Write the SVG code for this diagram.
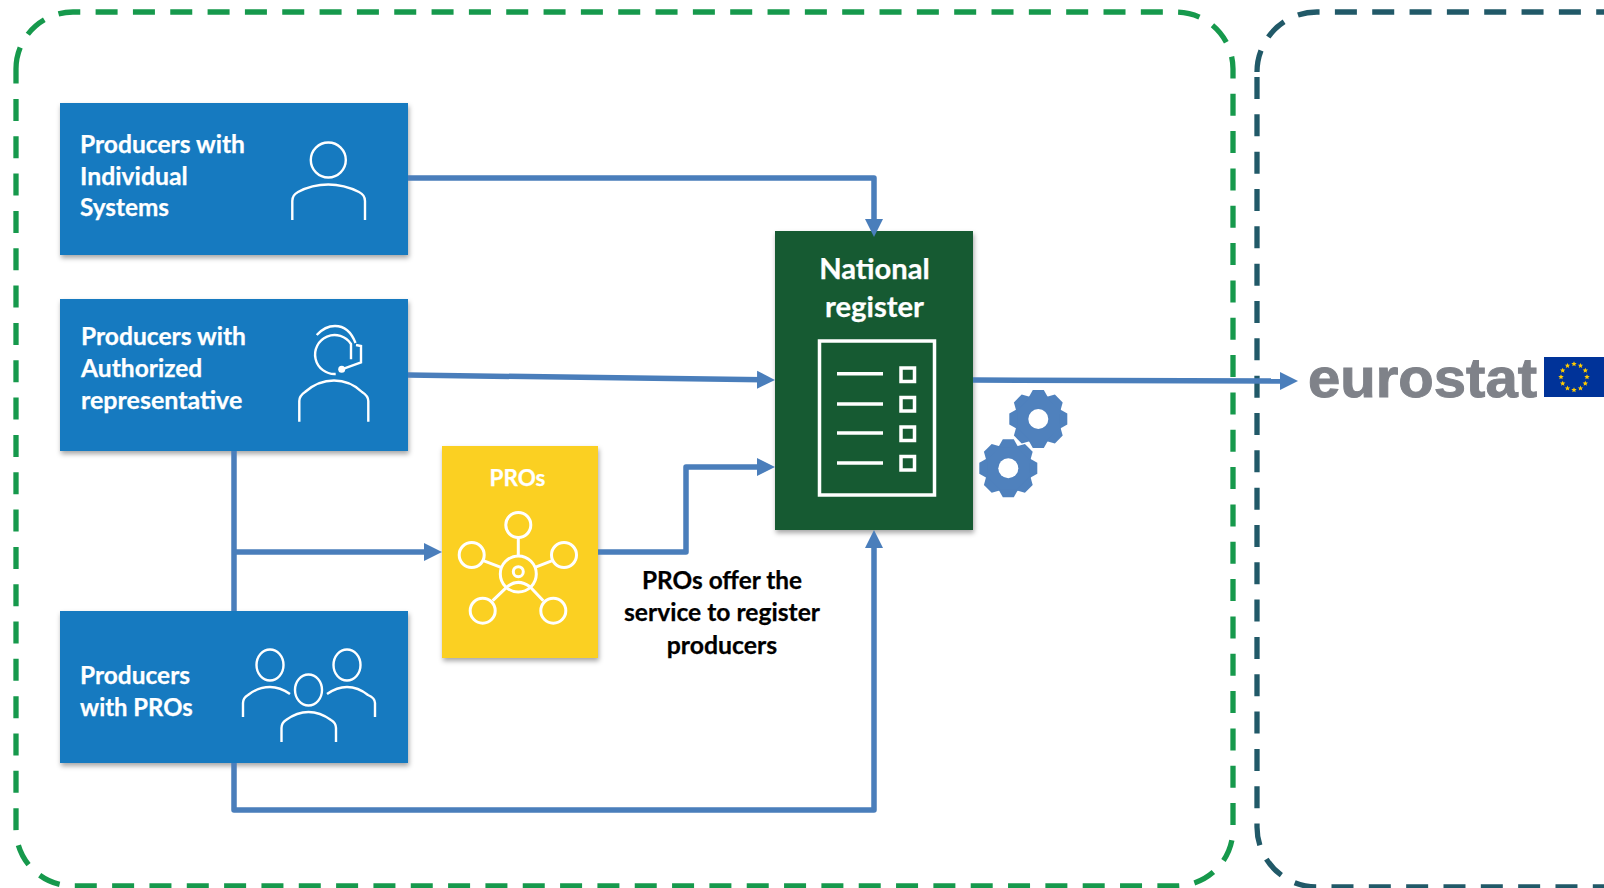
<svg xmlns="http://www.w3.org/2000/svg" width="1604" height="888" viewBox="0 0 1604 888">
<style>
.box{fill:#157ac0;filter:url(#sh)}
.t{font-family:Lato,Carlito,"Open Sans",sans-serif;font-weight:700;fill:#fff;font-size:24.600px;stroke:currentColor;stroke-width:.25;color:#fff}
.k{fill:#000;color:#000}
.ic{fill:none;stroke:#fff;stroke-width:2.400}
.c{fill:none;stroke:#4a7ebb;stroke-width:5.500;stroke-linejoin:round}
.d{fill:none;stroke-width:5.300;stroke-dasharray:22 15.330}
</style>
<defs>
<filter id="sh" x="-10%" y="-10%" width="120%" height="120%"><feDropShadow dx="1" dy="3" stdDeviation="2.500" flood-color="#000" flood-opacity="0.35"/></filter>
<marker id="a" markerUnits="userSpaceOnUse" markerWidth="20" markerHeight="20" refX="6" refY="10" orient="auto"><path d="M0 1L18 10L0 19z" fill="#4a7ebb"/></marker>
<g id="gear"><circle r="24" fill="#4f81bd"/><g fill="#4f81bd"><path id="tt" d="M-10-21L-5.500-29H5.500L10-21z"/><use href="#tt" transform="rotate(45)"/><use href="#tt" transform="rotate(90)"/><use href="#tt" transform="rotate(135)"/><use href="#tt" transform="rotate(180)"/><use href="#tt" transform="rotate(225)"/><use href="#tt" transform="rotate(270)"/><use href="#tt" transform="rotate(315)"/></g><circle r="10" fill="#fff"/></g>
<path id="star" d="M0-2.800L.8-.9L2.700-.9L1.200.4L1.700 2.300L0 1.200L-1.700 2.300L-1.200.4L-2.700-.9L-.8-.9z" fill="#ffcc00"/>
</defs>
<rect width="1604" height="888" fill="#fff"/>
<path id="green-frame" class="d" stroke="#16994c" d="M16 69A57 57 0 0 1 73 12H1176A57 57 0 0 1 1233 69V829A57 57 0 0 1 1176 886H73A57 57 0 0 1 16 829Z"/>
<g id="teal-frame"><path class="d" stroke="#215968" d="M1257 72A60 60 0 0 1 1317 12H1620"/><path class="d" stroke="#215968" d="M1257 77V827A60 60 0 0 0 1317 887H1620"/></g>
<g id="node-individual"><rect class="box" x="60" y="103" width="348" height="152"/>
<text class="t" x="80" y="152.500" textLength="165" lengthAdjust="spacingAndGlyphs">Producers with</text><text class="t" x="80" y="184.500" textLength="107.700" lengthAdjust="spacingAndGlyphs">Individual</text><text class="t" x="80" y="216" textLength="89" lengthAdjust="spacingAndGlyphs">Systems</text>
<circle class="ic" cx="328.300" cy="160" r="17.500"/><path class="ic" d="M292.300 220V201Q292.300 195 298 192Q312 184.500 328.300 184.500Q344 184.500 359 192Q365 195 365 201V220"/></g>
<g id="node-authorized"><rect class="box" x="60" y="299" width="348" height="152"/>
<text class="t" x="81" y="344.500" textLength="165" lengthAdjust="spacingAndGlyphs">Producers with</text><text class="t" x="81" y="377" textLength="121.300" lengthAdjust="spacingAndGlyphs">Authorized</text><text class="t" x="81" y="409" textLength="161.300" lengthAdjust="spacingAndGlyphs">representative</text>
<path class="ic" d="M299.300 421.700V401Q299.300 396 305 392Q318 380.500 334 380.500Q350 380.500 362 392Q368.300 396 368.300 401V421.700"/>
<path class="ic" d="M335.700 374A19.500 19.500 0 1 1 351 344V359.300"/>
<path class="ic" d="M316.700 335Q325 326 335 326Q349 326 355.500 343"/>
<path class="ic" d="M356 345L361 346V362.500L341.700 369.300"/>
<circle cx="341.700" cy="369.300" r="3.500" fill="#fff"/></g>
<g id="node-pros-producers"><rect class="box" x="60" y="611" width="348" height="152"/>
<text class="t" x="80" y="684" textLength="110" lengthAdjust="spacingAndGlyphs">Producers</text><text class="t" x="80" y="715.500" textLength="112.700" lengthAdjust="spacingAndGlyphs">with PROs</text>
<g class="ic"><ellipse cx="270" cy="665" rx="13.500" ry="15.500"/><ellipse cx="347" cy="665" rx="13.500" ry="15.500"/><ellipse cx="308.500" cy="690" rx="13.500" ry="15.500"/>
<path d="M243 717V703Q243 698 248 695Q258 687 270 687Q280 687 290 694"/><path d="M327 694Q337 687 347 687Q358 687 368 695Q375 698 375 703V717"/><path d="M281.500 742V728Q281.500 723 286 720Q297 712 308.500 712Q320 712 331 720Q336 723 336 728V742"/></g></g>
<g id="node-pros"><rect x="442" y="446" width="156" height="212" fill="#fbd022" filter="url(#sh)"/>
<text class="t" x="517.500" y="486" text-anchor="middle" style="font-size:23px" textLength="56" lengthAdjust="spacingAndGlyphs">PROs</text>
<g class="ic" style="stroke-width:3"><circle cx="518.300" cy="574" r="18"/><circle cx="518.300" cy="571.700" r="5"/><path d="M507.300 586.700Q518 578 530 586.700M518.300 537.700V555.700M483.300 560.700L501 567.300M552.300 560.700L535 567.300M492.700 600.700L507.300 586.700M543.300 600.700L530 586.700"/>
<circle cx="518.300" cy="525" r="12.500"/><circle cx="471.700" cy="555" r="12.500"/><circle cx="564" cy="555" r="12.500"/><circle cx="482.700" cy="610.700" r="12.500"/><circle cx="553.300" cy="610.700" r="12.500"/></g></g>
<g id="node-register"><rect x="775" y="231" width="198" height="299" fill="#165a30" filter="url(#sh)"/>
<text class="t" x="874.500" y="279" text-anchor="middle" style="font-size:29px" textLength="110.700" lengthAdjust="spacingAndGlyphs">National</text><text class="t" x="874.500" y="317" text-anchor="middle" style="font-size:29px" textLength="99" lengthAdjust="spacingAndGlyphs">register</text>
<g class="ic" style="stroke-width:3.500"><rect x="819.500" y="341" width="115" height="154"/><path d="M837 373.700H883M837 404H883M837 433H883M837 463H883"/>
<rect x="901" y="368" width="13.500" height="13.500"/><rect x="901" y="397.500" width="13.500" height="13.500"/><rect x="901" y="427" width="13.500" height="13.500"/><rect x="901" y="456.500" width="13.500" height="13.500"/></g></g>
<g id="connectors">
<path class="c" d="M408 178H874V225" marker-end="url(#a)"/>
<path class="c" d="M408 375L763 379.800" marker-end="url(#a)"/>
<path class="c" d="M234 451V611"/>
<path class="c" d="M234 552H430" marker-end="url(#a)"/>
<path class="c" d="M598 552H686V467H763" marker-end="url(#a)"/>
<path class="c" d="M234 763V810H874V542" marker-end="url(#a)"/>
<path class="c" d="M973 380L1286 381" marker-end="url(#a)"/>
</g>
<g id="gears"><use href="#gear" transform="translate(1038.300 419)"/><use href="#gear" transform="translate(1008.300 468.300)"/></g>
<g id="label"><text class="t k" x="722" y="589" text-anchor="middle" textLength="160" lengthAdjust="spacingAndGlyphs">PROs offer the</text><text class="t k" x="722" y="621" text-anchor="middle" textLength="196" lengthAdjust="spacingAndGlyphs">service to register</text><text class="t k" x="722" y="653.500" text-anchor="middle" textLength="110.500" lengthAdjust="spacingAndGlyphs">producers</text></g>
<g id="eurostat"><text x="1308" y="397" font-family="Liberation Sans,Arial,sans-serif" font-weight="700" font-size="56" fill="#7f8289" stroke="#7f8289" stroke-width="1" textLength="229" lengthAdjust="spacingAndGlyphs">eurostat</text>
<rect x="1544" y="357" width="60" height="40" fill="#003399"/>
<g><use href="#star" x="1574" y="364"/><use href="#star" x="1580.500" y="365.700"/><use href="#star" x="1585.300" y="370.500"/><use href="#star" x="1587" y="377"/><use href="#star" x="1585.300" y="383.500"/><use href="#star" x="1580.500" y="388.300"/><use href="#star" x="1574" y="390"/><use href="#star" x="1567.500" y="388.300"/><use href="#star" x="1562.700" y="383.500"/><use href="#star" x="1561" y="377"/><use href="#star" x="1562.700" y="370.500"/><use href="#star" x="1567.500" y="365.700"/></g></g>
</svg>
